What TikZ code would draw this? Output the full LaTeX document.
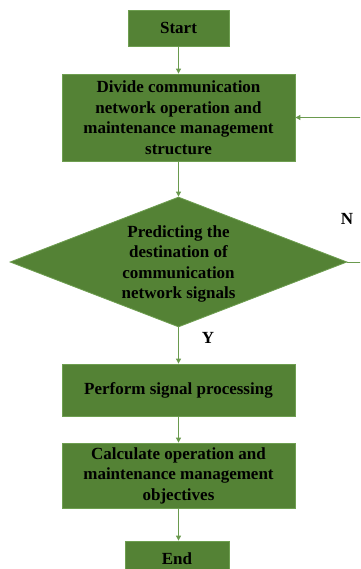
\documentclass[tikz,border=0pt]{standalone}
\usepackage{fontspec}
\setmainfont{Liberation Serif}
\usetikzlibrary{shapes.geometric,arrows.meta}
\definecolor{boxgreen}{HTML}{548235}
\definecolor{edgegreen}{HTML}{6E9E50}
\definecolor{linegreen}{HTML}{6A9A4E}
\begin{document}
\begin{tikzpicture}[x=1pt,y=-1pt,
  box/.style={draw=edgegreen, fill=boxgreen, line width=0.8pt, inner sep=0pt,
    font=\bfseries\fontsize{17}{20.5}\selectfont, align=center, text=black},
  decision/.style={diamond, draw=edgegreen, fill=boxgreen, line width=0.8pt,
    inner sep=0pt, minimum width=337pt, minimum height=130pt},
  flow/.style={draw=linegreen, line width=1pt, -{Triangle[length=5pt,width=5pt]}},
  lbl/.style={font=\bfseries\fontsize{17}{20.5}\selectfont, text=black}]
\clip (0,0) rectangle (360,569);
\useasboundingbox (0,0) rectangle (360,569);

\node[box, minimum width=101pt, minimum height=36pt] (start) at (178.5,28) {Start};
\node[box, minimum width=233pt, minimum height=87pt] (divide) at (178.5,117.5)
  {Divide communication\\network operation and\\maintenance management\\structure};
\node[decision] (pred) at (178.5,262) {};
\node[lbl, align=center] (predtext) at (178.5,264)
  {Predicting the\\destination of\\communication\\network signals};
\node[box, minimum width=233pt, minimum height=52pt] (perform) at (178.5,390)
  {Perform signal processing};
\node[box, minimum width=233pt, minimum height=65pt] (calc) at (178.5,475.5)
  {Calculate operation and\\maintenance management\\objectives};
\node[box, minimum width=104pt, minimum height=36pt] (stop) at (177,559) {End};

\node[lbl] (no) at (347,219) {N};
\node[lbl] (yes) at (208,338) {Y};

\draw[flow] (start) -- (divide);
\draw[flow] (divide) -- (pred);
\draw[flow] (pred) -- (perform);
\draw[flow] (perform) -- (calc);
\draw[flow] (calc.south) -- (calc.south |- stop.north);
\draw[flow] (pred.east) -- ++(30,0) |- (divide.east);
\end{tikzpicture}
\end{document}
